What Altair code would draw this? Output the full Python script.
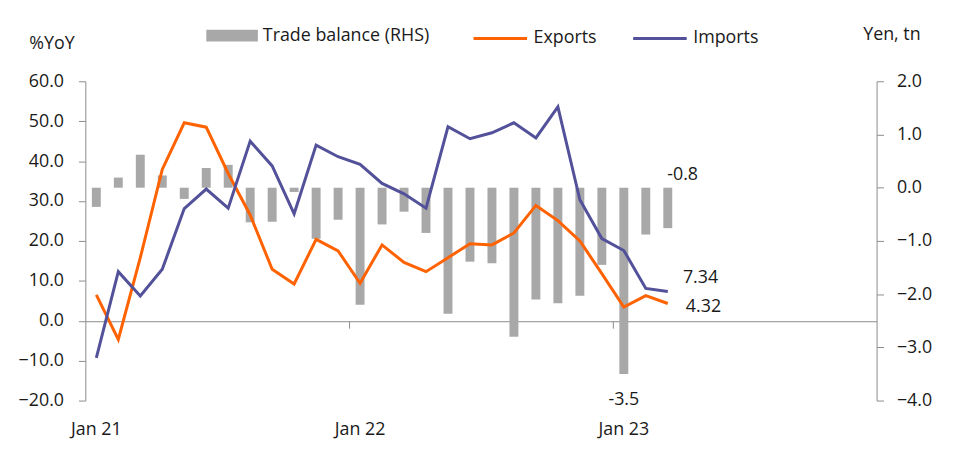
import altair as alt
import pandas as pd

FONT = "Open Sans"
FS = 18
TXT = "#1a1a1a"
GRAY_AX = "#8c8c8c"
ORANGE = "#FF6200"
PURPLE = "#525199"
BARGRAY = "#A8A8A8"

mnames = ["Jan", "Feb", "Mar", "Apr", "May", "Jun", "Jul", "Aug", "Sep", "Oct", "Nov", "Dec"]
months = [f"{m} {y}" for y in ["21", "22", "23"] for m in mnames]
data_months = months[:27]

exports = [6.5, -4.7, 15.8, 37.9, 49.6, 48.5, 36.9, 26.5, 12.9, 9.2, 20.4, 17.5,
           9.4, 19.0, 14.6, 12.3, 15.8, 19.3, 19.0, 22.0, 28.9, 25.1, 20.0, 11.8,
           3.4, 6.3, 4.32]
imports = [-9.3, 12.3, 6.2, 12.9, 28.1, 33.0, 28.2, 45.0, 38.8, 26.8, 44.0, 41.1,
           39.2, 34.4, 31.8, 28.2, 48.6, 45.6, 47.1, 49.6, 45.8, 53.6, 30.3, 20.6,
           17.6, 8.1, 7.34]
balance = [-0.36, 0.19, 0.62, 0.23, -0.21, 0.37, 0.43, -0.65, -0.64, -0.08, -0.96, -0.60,
           -2.20, -0.69, -0.45, -0.85, -2.37, -1.39, -1.42, -2.80, -2.10, -2.17, -2.03, -1.45,
           -3.50, -0.88, -0.76]

x_label_values = ["Jan 21", "Jan 22", "Jan 23"]
x_tick_values = ["Jan 22", "Jan 23"]
left_ticks = [-20, -10, 0, 10, 20, 30, 40, 50, 60]
right_ticks = [-4, -3, -2, -1, 0, 1, 2]

bal_df = pd.DataFrame({"month": data_months, "value": balance,
                       "series": ["Trade balance (RHS)"] * len(data_months)})
line_df = pd.concat([
    pd.DataFrame({"month": data_months, "value": exports, "series": ["Exports"] * 27}),
    pd.DataFrame({"month": data_months, "value": imports, "series": ["Imports"] * 27}),
])

xscale = alt.Scale(type="band", domain=months, paddingInner=0, paddingOuter=0)
yl_scale = alt.Scale(domain=[-20, 60], nice=False, zero=False)
yr_scale = alt.Scale(domain=[-4, 2], nice=False, zero=False)

x_axis_labels = alt.Axis(orient="bottom", values=x_label_values, domain=False, ticks=False,
                         labelPadding=20, labelAngle=0, title=None, grid=False)
x_axis_zero = alt.Axis(orient="bottom", offset=-80, labels=False, values=x_tick_values,
                       bandPosition=0, domainColor=GRAY_AX, tickColor=GRAY_AX, tickSize=7,
                       title=None, grid=False)
y_axis_right = alt.Axis(orient="right", values=right_ticks, format=".1f", title="Yen, tn",
                        titleAngle=0, titleX=-14, titleY=-42, titleAlign="left",
                        titleBaseline="alphabetic", grid=False, domainColor=GRAY_AX,
                        tickColor=GRAY_AX, tickSize=7, labelPadding=13)
y_axis_left = alt.Axis(orient="left", values=left_ticks, format=".1f", title="%YoY",
                       titleAngle=0, titleX=-57, titleY=-33, titleAlign="left",
                       titleBaseline="alphabetic", grid=False, domainColor=GRAY_AX,
                       tickColor=GRAY_AX, tickSize=7, labelPadding=15)

bars = alt.Chart(bal_df).mark_bar(size=9).encode(
    x=alt.X("month:O", scale=xscale, sort=months, axis=x_axis_labels),
    y=alt.Y("value:Q", scale=yr_scale, axis=y_axis_right),
    fill=alt.Fill("series:N", scale=alt.Scale(domain=["Trade balance (RHS)"], range=[BARGRAY]),
                  legend=alt.Legend(orient="none", legendX=122, legendY=-72, direction="horizontal",
                                    title=None, symbolType="M-1,-0.23H1V0.23H-1Z", symbolSize=2704,
                                    symbolStrokeWidth=0, labelOffset=5, labelLimit=400)),
)


def label(month, value, text, dx, dy, yscale, xaxis, yaxis):
    return alt.Chart(pd.DataFrame({"month": [month], "value": [value], "label": [text]})).mark_text(
        dx=dx, dy=dy, fontSize=FS, font=FONT, color=TXT).encode(
        x=alt.X("month:O", scale=xscale, sort=months, axis=xaxis),
        y=alt.Y("value:Q", scale=yscale, axis=yaxis),
        text="label:N")


bar_label_months = ["Mar 23", "Jan 23"]
bar_label_values = [0.0, -3.5]
bar_label_texts = ["-0.8", "-3.5"]

lab_m08 = label(bar_label_months[0], bar_label_values[0], bar_label_texts[0], 15, -13,
                yr_scale, x_axis_labels, y_axis_right)
lab_m35 = label(bar_label_months[1], bar_label_values[1], bar_label_texts[1], 0, 26,
                yr_scale, x_axis_labels, y_axis_right)

lines = alt.Chart(line_df).mark_line(strokeWidth=3).encode(
    x=alt.X("month:O", scale=xscale, sort=months, axis=x_axis_zero),
    y=alt.Y("value:Q", scale=yl_scale, axis=y_axis_left),
    stroke=alt.Stroke("series:N", scale=alt.Scale(domain=["Exports", "Imports"], range=[ORANGE, PURPLE]),
                      legend=alt.Legend(orient="none", legendX=390, legendY=-72, direction="horizontal",
                                        title=None, symbolType="stroke", symbolSize=2916,
                                        symbolStrokeWidth=3, columnPadding=30, labelOffset=5,
                                        labelLimit=400)),
    detail="series:N",
)

lab_734 = label("Mar 23", 7.34, "7.34", 33, -14, yl_scale, x_axis_zero, y_axis_left)
lab_432 = label("Mar 23", 4.32, "4.32", 36, 4, yl_scale, x_axis_zero, y_axis_left)

right_layer = alt.layer(bars, lab_m08, lab_m35)
left_layer = alt.layer(lines, lab_734, lab_432)

chart = alt.layer(right_layer, left_layer).resolve_scale(
    y="independent", fill="independent", stroke="independent"
).resolve_axis(x="independent").properties(
    width=798, height=322,
    autosize=alt.AutoSizeParams(type="none"),
    padding={"left": 78, "top": 72, "right": 69, "bottom": 53},
).configure_view(stroke=None).configure_axis(
    labelFont=FONT, labelFontSize=FS, labelColor=TXT, titleFont=FONT, titleFontSize=FS,
    titleColor=TXT, titleFontWeight="normal"
).configure_legend(
    labelFont=FONT, labelFontSize=FS, labelColor=TXT, padding=0
)

chart.save("out.html", embed_options={"renderer": "svg", "actions": False})
